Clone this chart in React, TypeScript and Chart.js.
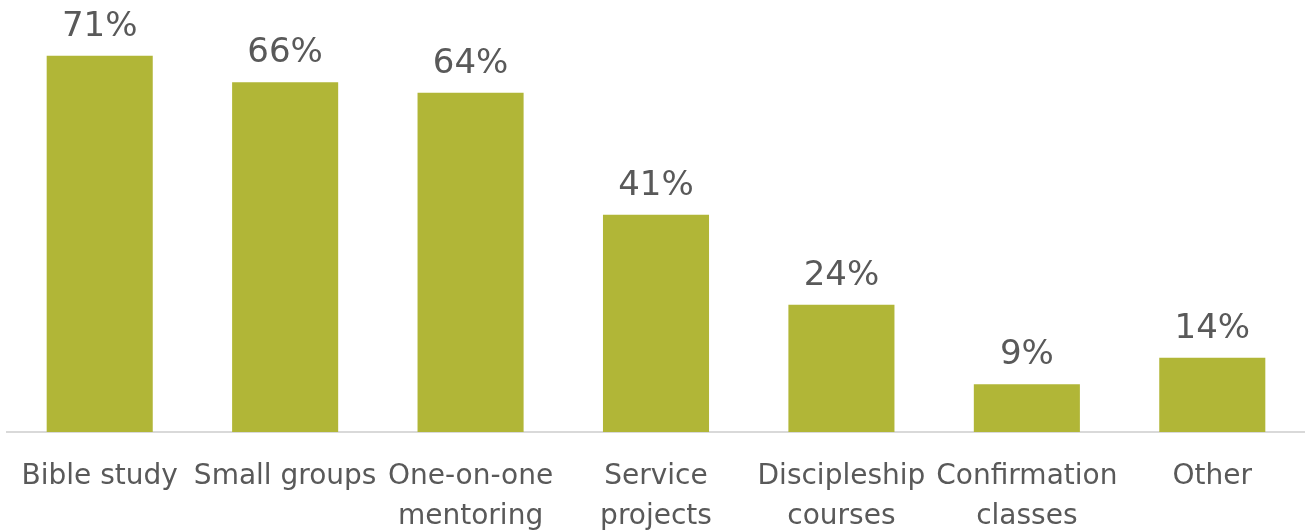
import React, { useEffect, useRef } from "react";
import { Chart, registerables } from "chart.js";

Chart.register(...registerables);

const categories: string[][] = [
  ["Bible study"],
  ["Small groups"],
  ["One-on-one", "mentoring"],
  ["Service", "projects"],
  ["Discipleship", "courses"],
  ["Confirmation", "classes"],
  ["Other"],
];
const values: number[] = [71, 66, 64, 41, 24, 9, 14];

const BAR_COLOR = "#b1b637";
const TEXT_COLOR = "#595959";
const FONT_FAMILY = "'DejaVu Sans', sans-serif";

const valueLabels = {
  id: "valueLabels",
  afterDatasetsDraw(chart: any) {
    const ctx = chart.ctx;
    const meta = chart.getDatasetMeta(0);
    ctx.save();
    ctx.fillStyle = TEXT_COLOR;
    ctx.font = `34px ${FONT_FAMILY}`;
    ctx.textAlign = "center";
    ctx.textBaseline = "alphabetic";
    meta.data.forEach((bar: any, i: number) => {
      ctx.fillText(`${values[i]}%`, bar.x, bar.y - 20);
    });
    ctx.restore();
  },
};

export default function App() {
  const canvasRef = useRef<HTMLCanvasElement | null>(null);

  useEffect(() => {
    if (!canvasRef.current) return;
    const chart = new Chart(canvasRef.current, {
      type: "bar",
      data: {
        labels: categories,
        datasets: [
          {
            data: values,
            backgroundColor: BAR_COLOR,
            borderWidth: 0,
            categoryPercentage: 1,
            barPercentage: 0.572,
          },
        ],
      },
      options: {
        animation: false,
        responsive: true,
        maintainAspectRatio: false,
        layout: { padding: { left: 7, right: 0, top: 8, bottom: 0 } },
        plugins: {
          legend: { display: false },
          title: { display: false },
          tooltip: { enabled: false },
        },
        scales: {
          y: {
            display: false,
            min: 0,
            max: 80,
          },
          x: {
            grid: { display: false, drawTicks: false },
            border: { display: true, color: "#d9d9d9", width: 2 },
            ticks: {
              color: TEXT_COLOR,
              font: { family: FONT_FAMILY, size: 28, lineHeight: 1.45 },
              padding: 24,
              maxRotation: 0,
              autoSkip: false,
            },
            afterFit(scale: any) {
              scale.height = 99;
              scale.paddingLeft = 0;
              scale.paddingRight = 0;
            },
          },
        },
      },
      plugins: [valueLabels],
    });
    return () => chart.destroy();
  }, []);

  return (
    <div
      style={{
        position: "fixed",
        left: 0,
        top: 0,
        width: 1305,
        height: 531,
        background: "#ffffff",
      }}
    >
      <canvas ref={canvasRef} />
    </div>
  );
}
